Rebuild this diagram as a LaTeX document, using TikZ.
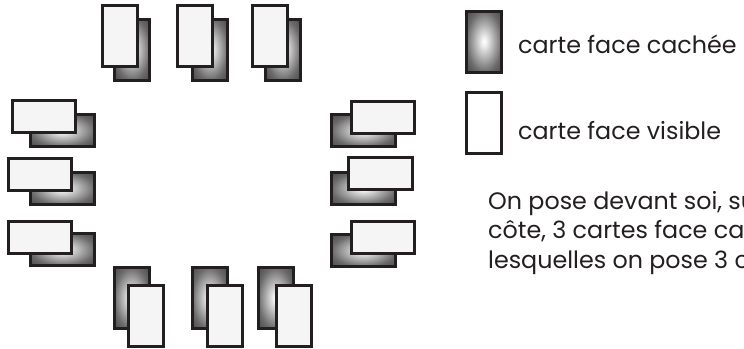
\documentclass[tikz,border=0pt]{standalone}
\usepackage{fontspec}
\setmainfont{Poppins}
\definecolor{ink}{HTML}{231F20}
\definecolor{facefill}{HTML}{F5F5F5}
% back of a card: bright centre fading to dark grey edges
\pgfdeclareradialshading{cardback}{\pgfpoint{0bp}{0bp}}{%
  color(0bp)=(white); color(3bp)=(white!95!black);
  color(25bp)=(black!58); color(36bp)=(black!72); color(50bp)=(black!72)}
\tikzset{
  card/.style={draw=ink, line width=3pt, inner sep=0pt, outer sep=0pt},
  faceup/.style={card, fill=facefill},
  facedown/.style={card, shade, shading=cardback},
  vert/.style={minimum width=35pt, minimum height=61pt},
  horiz/.style={minimum width=63.5pt, minimum height=32pt},
  caption/.style={font=\fontsize{23.8}{28}\selectfont, text=ink, inner sep=0pt, anchor=base west}
}
\begin{document}
\begin{tikzpicture}[x=1pt, y=-1pt]
\useasboundingbox (0,0) rectangle (744,348);
\clip (0,0) rectangle (744,348);
% top row: face-down card behind, face-up card in front
\node[facedown, vert] (t1b) at (132,49.5) {};
\node[faceup, vert]   (t1f) at (119.5,36) {};
\node[facedown, vert] (t2b) at (210,49.5) {};
\node[faceup, vert]   (t2f) at (195,36) {};
\node[facedown, vert] (t3b) at (283,49.5) {};
\node[faceup, vert]   (t3f) at (270,36) {};
% left column
\node[facedown, horiz] (l1b) at (62.5,130.5) {};
\node[faceup, horiz]   (l1f) at (44,116.5) {};
\node[facedown, horiz] (l2b) at (62.5,188.5) {};
\node[faceup, horiz]   (l2f) at (40,174.5) {};
\node[facedown, horiz] (l3b) at (62.5,249.5) {};
\node[faceup, horiz]   (l3f) at (40,237.5) {};
% right column
\node[facedown, horiz] (r1b) at (363.5,130.5) {};
\node[faceup, horiz]   (r1f) at (383,117) {};
\node[facedown, horiz] (r2b) at (363.5,188.5) {};
\node[faceup, horiz]   (r2f) at (380.5,173) {};
\node[facedown, horiz] (r3b) at (363.5,250.5) {};
\node[faceup, horiz]   (r3f) at (383,237) {};
% bottom row
\node[facedown, vert] (b1b) at (131.5,298) {};
\node[faceup, vert]   (b1f) at (146,316) {};
\node[facedown, vert] (b2b) at (209.5,298) {};
\node[faceup, vert]   (b2f) at (225,316) {};
\node[facedown, vert] (b3b) at (275.5,298) {};
\node[faceup, vert]   (b3f) at (294,316) {};
% legend
\node[facedown, vert] (keyback) at (484,41.5) {};
\node[card, fill=white, vert] (keyface) at (484,122.5) {};
\node[caption] (keybacktxt) at (518,53) {carte face cachée};
\node[caption] (keyfacetxt) at (518,139) {carte face visible};
% explanation
\node[caption] (p1) at (488,209) {On pose devant soi, su};
\node[caption] (p2) at (488,238.5) {côte, 3 cartes face ca};
\node[caption] (p3) at (488,268) {lesquelles on pose 3 co};
\end{tikzpicture}
\end{document}
